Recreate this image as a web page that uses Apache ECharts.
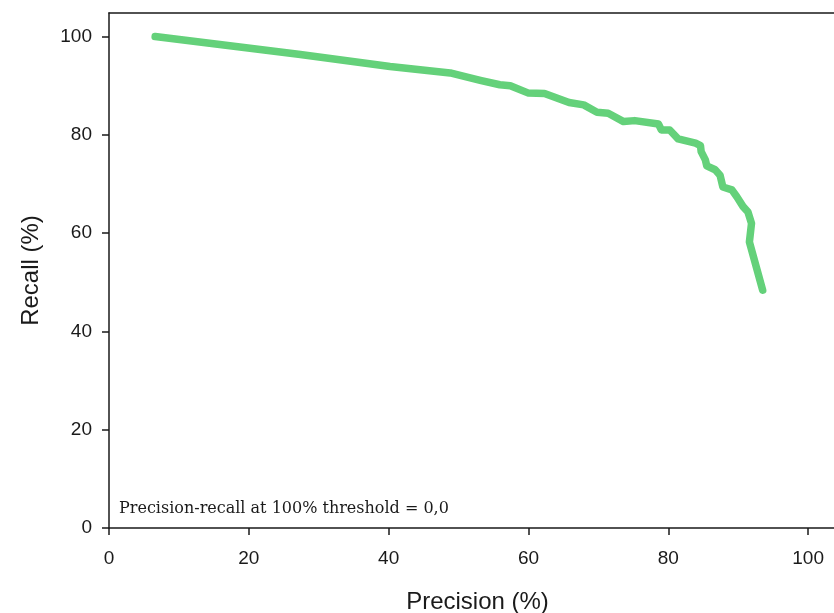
<!DOCTYPE html>
<html>
<head>
<meta charset="utf-8">
<script src="https://cdn.jsdelivr.net/npm/echarts@6/dist/echarts.min.js"></script>
<style>html,body{margin:0;padding:0;background:#fff}#c{width:834px;height:613px}</style>
</head>
<body>
<div id="c"></div>
<script>
// Precision (%) values along the curve
const precision = [6.6, 27.1, 40.2, 48.8, 53.1, 55.9, 57.4, 60.0, 62.3, 65.8, 67.9, 69.8, 71.4, 73.6, 75.2, 78.6, 79.0, 80.2, 81.4, 83.9, 84.6, 84.7, 85.3, 85.5, 86.7, 87.4, 87.8, 89.1, 89.8, 90.7, 91.4, 91.9, 91.6, 93.5];
// Recall (%) values along the curve
const recall = [100.0, 96.4, 93.9, 92.6, 91.1, 90.2, 90.0, 88.5, 88.4, 86.6, 86.1, 84.6, 84.4, 82.7, 82.9, 82.2, 81.0, 81.0, 79.2, 78.3, 77.8, 76.6, 74.9, 73.7, 72.9, 71.8, 69.4, 68.8, 67.4, 65.4, 64.3, 62.0, 58.2, 48.4];
const tickValues = [0, 20, 40, 60, 80, 100];
const annotation = 'Precision-recall at 100% threshold = 0,0';

const chart = echarts.init(document.getElementById('c'), null, {renderer: 'canvas'});
const ink = '#1a1a1a';
const lineStyle = {color: ink, width: 1.5};
chart.setOption({
  animation: false,
  grid: {left: 109, top: 13, width: 725, height: 515, show: false, containLabel: false, outerBoundsMode: 'none'},
  xAxis: [{
    type: 'value', min: 0, max: 103.7, position: 'bottom',
    axisLine: {show: true, lineStyle: lineStyle},
    axisTick: {show: true, inside: false, length: 7, lineStyle: lineStyle, customValues: tickValues},
    axisLabel: {color: ink, fontFamily: 'Liberation Sans', fontSize: 19, margin: 21, customValues: tickValues},
    splitLine: {show: false},
    name: 'Precision (%)', nameLocation: 'middle', nameGap: 62,
    nameTextStyle: {color: ink, fontFamily: 'Liberation Sans', fontSize: 24, padding: [0, 0, 0, 12]}
  }, {
    type: 'value', min: 0, max: 103.7, position: 'top',
    axisLine: {show: true, lineStyle: lineStyle},
    axisTick: {show: false}, axisLabel: {show: false}, splitLine: {show: false}
  }],
  yAxis: {
    type: 'value', min: 0, max: 104.8,
    axisLine: {show: true, lineStyle: lineStyle},
    axisTick: {show: true, inside: false, length: 7, lineStyle: lineStyle, customValues: tickValues},
    axisLabel: {color: ink, fontFamily: 'Liberation Sans', fontSize: 19, margin: 17, customValues: tickValues},
    splitLine: {show: false},
    name: 'Recall (%)', nameLocation: 'middle', nameGap: 66,
    nameTextStyle: {color: ink, fontFamily: 'Liberation Sans', fontSize: 24}
  },
  series: [{
    type: 'line',
    xAxisIndex: 0,
    data: precision.map((p, i) => [p, recall[i]]),
    showSymbol: false, symbol: 'none',
    lineStyle: {color: '#64d17a', width: 7.5, cap: 'round', join: 'round'}
  }],
  graphic: [{
    type: 'text', left: 119, top: 501,
    style: {text: annotation, fill: ink, font: '16px "DejaVu Serif"'}
  }]
});
</script>
</body>
</html>
